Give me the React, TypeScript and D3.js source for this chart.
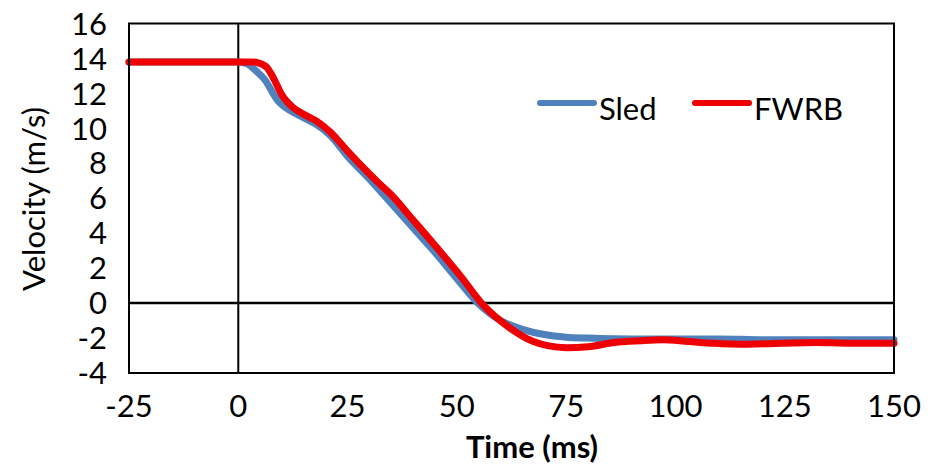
import React from "react";
import * as d3 from "d3";

const sledTime = [-25, 0, 2, 4, 6, 9, 12, 15, 18, 21, 25, 30, 35, 40, 45, 50, 55, 60, 65, 70, 75, 80, 90, 100, 110, 120, 130, 140, 150];
const sledVel = [13.8, 13.8, 13.7, 13.3, 12.8, 11.6, 11.0, 10.6, 10.2, 9.6, 8.4, 7.1, 5.7, 4.3, 2.9, 1.4, -0.05, -1.0, -1.5, -1.8, -1.95, -2.0, -2.05, -2.05, -2.05, -2.1, -2.1, -2.1, -2.1];

const fwrbTime = [-25, 0, 3, 4.5, 6.5, 8, 10, 12.5, 15, 18, 21, 25, 28, 32, 35, 39.5, 45, 51, 56, 62, 67.5, 71, 75, 80, 86, 92, 97, 103, 109, 115, 124, 132, 140, 150];
const fwrbVel = [13.8, 13.8, 13.8, 13.75, 13.5, 12.9, 11.9, 11.2, 10.8, 10.4, 9.8, 8.7, 7.9, 6.9, 6.2, 4.9, 3.3, 1.5, -0.1, -1.4, -2.2, -2.45, -2.55, -2.5, -2.25, -2.15, -2.1, -2.2, -2.3, -2.35, -2.3, -2.25, -2.3, -2.3];

const xTicks = [-25, 0, 25, 50, 75, 100, 125, 150];
const yTicks = [-4, -2, 0, 2, 4, 6, 8, 10, 12, 14, 16];

const seriesNames = ["Sled", "FWRB"];
const seriesColors = ["#4F81BD", "#EE0000"];

export default function App() {
  const W = 951, H = 467;
  const left = 129, right = 894, top = 23.5, bottom = 373;
  const x = d3.scaleLinear().domain([-25, 150]).range([left, right]);
  const y = d3.scaleLinear().domain([-4, 16]).range([bottom, top]);
  const line = d3
    .line<[number, number]>()
    .x((d) => x(d[0]))
    .y((d) => y(d[1]))
    .curve(d3.curveMonotoneX);
  const sled = sledTime.map((t, i) => [t, sledVel[i]] as [number, number]);
  const fwrb = fwrbTime.map((t, i) => [t, fwrbVel[i]] as [number, number]);
  const font = "Lato, 'Open Sans', sans-serif";
  return (
    <svg width={W} height={H} style={{ position: "absolute", left: 0, top: 0, background: "#fff" }}>
      <rect x={0} y={0} width={W} height={H} fill="#fff" />
      {/* zero lines */}
      <line x1={x(0)} x2={x(0)} y1={top} y2={bottom} stroke="#000" strokeWidth={2} />
      <line x1={left} x2={right} y1={y(0)} y2={y(0)} stroke="#000" strokeWidth={2.5} />
      {/* series */}
      <path d={line(sled) || ""} fill="none" stroke={seriesColors[0]} strokeWidth={7} strokeLinejoin="round" strokeLinecap="round" />
      <path d={line(fwrb) || ""} fill="none" stroke={seriesColors[1]} strokeWidth={7} strokeLinejoin="round" strokeLinecap="round" />
      {/* frame */}
      <rect x={left} y={top} width={right - left} height={bottom - top} fill="none" stroke="#000" strokeWidth={2} />
      {/* y tick labels */}
      {yTicks.map((v) => (
        <text key={v} x={107} y={y(v)} dy="0.36em" textAnchor="end" fontFamily={font} fontSize={31} fill="#000">
          {v}
        </text>
      ))}
      {/* x tick labels */}
      {xTicks.map((v) => (
        <text key={v} x={x(v)} y={417} textAnchor="middle" fontFamily={font} fontSize={31} fill="#000">
          {v}
        </text>
      ))}
      <text x={532} y={458} textAnchor="middle" fontFamily={font} fontWeight="bold" fontSize={31} fill="#000">
        Time (ms)
      </text>
      <text transform="translate(45,199) rotate(-90)" textAnchor="middle" fontFamily={font} fontSize={31} fill="#000">
        Velocity (m/s)
      </text>
      {/* legend */}
      {seriesNames.map((n, i) => {
        const lx = i === 0 ? 540 : 695;
        return (
          <g key={n}>
            <line x1={lx} x2={lx + 54} y1={103} y2={103} stroke={seriesColors[i]} strokeWidth={6} strokeLinecap="round" />
            <text x={lx + 59} y={120} fontFamily={font} fontSize={31} fill="#000">
              {n}
            </text>
          </g>
        );
      })}
    </svg>
  );
}
